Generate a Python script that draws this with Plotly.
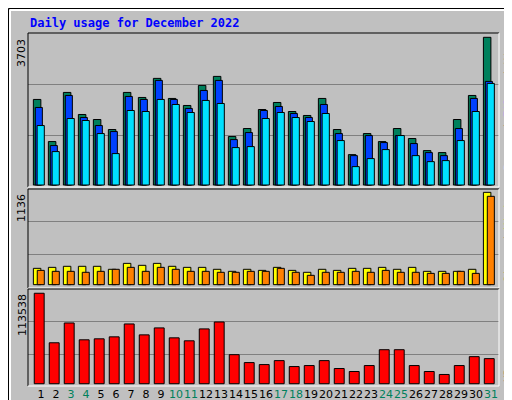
import plotly.graph_objects as go

days = list(range(1, 32))
hits = [2145,1089,2321,1768,1642,1391,2321,2195,2673,2170,1994,2497,2723,1215,1416,1893,2069,1843,1743,2170,1391,762,1290,1089,1416,1165,863,813,1642,2245,3703]
files = [1944,989,2245,1692,1491,1340,2220,2145,2622,2145,1919,2371,2622,1139,1315,1868,1969,1793,1692,2019,1290,737,1240,1064,1240,1039,813,737,1416,2170,2597]
pages = [1491,838,1667,1617,1290,788,1868,1843,2145,2019,1818,2120,2044,938,963,1667,1818,1692,1592,1793,1114,461,662,888,1240,737,586,612,1114,1843,2547]
visits = [201,213,226,226,226,189,262,238,262,226,213,213,189,164,189,176,213,176,152,189,176,201,201,213,189,213,164,164,164,189,1136]
sites = [176,164,164,152,164,189,213,164,213,189,164,164,152,152,164,164,201,152,115,152,152,164,152,176,152,152,139,139,164,139,1087]
kbytes = [113538,51386,76250,55115,56358,58845,75006,61331,70034,57601,53872,68790,77493,36467,26522,24035,29008,21549,22792,29008,19062,15333,22792,42683,42683,22792,15333,11603,22792,33981,31494]
weekend = [3,4,10,11,17,18,24,25,31]

W, H = 512, 400
L, R, T, B = 20, 21, 25, 22
PW, PH = W - L - R, H - T - B
def px(x): return (x - L) / PW
def py(y): return (H - B - y) / PH

fig = go.Figure()
line = dict(color="black", width=1)
def bar(y, color, off, wid, ax):
    fig.add_trace(go.Bar(x=days, y=y, marker=dict(color=color, line=line),
                         offset=off, width=wid, yaxis=ax, showlegend=False, hoverinfo="skip"))
bar(hits, "#00805C", -0.51, 0.5, "y")
bar(files, "#0040FF", -0.38, 0.47, "y")
bar(pages, "#00E0FF", -0.26, 0.48, "y")
bar(visits, "#FFFF00", -0.51, 0.5, "y2")
bar(sites, "#FF8000", -0.25, 0.47, "y2")
bar(kbytes, "#FF0000", -0.45, 0.66, "y3")

ticktext = [f'<span style="color:{"#00805C" if d in weekend else "black"}">{d}</span>' for d in days]
ycommon = dict(showticklabels=False, ticks="", showgrid=True, gridcolor="#808080", gridwidth=1,
               zeroline=False, showline=False, automargin=False)
fig.update_layout(
    width=W, height=H, margin=dict(l=L, r=R, t=T, b=B, autoexpand=False),
    paper_bgcolor="#C0C0C0", plot_bgcolor="#C0C0C0", barmode="overlay",
    font=dict(family="DejaVu Sans", size=11, color="black"),
    xaxis=dict(range=[0.133, 31.53], tickvals=days, ticktext=ticktext, ticks="", showgrid=False,
               zeroline=False, tickfont=dict(size=11), tickangle=0, automargin=False, anchor="y3"),
    yaxis=dict(domain=[py(179), 1], range=[-50, 3811], tickvals=[1253, 2532], **ycommon),
    yaxis2=dict(domain=[py(280), py(181)], range=[-41, 1177], tickvals=[374, 780], **ycommon),
    yaxis3=dict(domain=[0, py(281)], range=[-2860, 118886], tickvals=[36562, 77600], **ycommon),
)
ann = [
    dict(x=px(20), y=py(15), text="<b>Daily usage for December 2022</b>", xanchor="left", yanchor="middle",
         font=dict(family="DejaVu Sans Mono", size=12, color="#0000FF")),
    dict(x=px(14), y=py(29), text="3703", textangle=-90, xanchor="center", yanchor="top"),
    dict(x=px(14), y=py(184), text="1136", textangle=-90, xanchor="center", yanchor="top"),
    dict(x=px(14), y=py(284), text="113538", textangle=-90, xanchor="center", yanchor="top"),
    dict(x=px(500), y=py(28), textangle=-90, xanchor="center", yanchor="top",
         text='<span style="color:#00E0FF">Pages</span> / <span style="color:#0040FF">Files</span> / <span style="color:#00805C">Hits</span>',
         font=dict(family="DejaVu Sans Mono", size=11)),
    dict(x=px(500), y=py(277), textangle=-90, xanchor="center", yanchor="bottom",
         text='<span style="color:#FF8000">Sites</span> / <span style="color:#FFFF00">Visits</span>',
         font=dict(family="DejaVu Sans Mono", size=11)),
    dict(x=px(500), y=py(376), textangle=-90, xanchor="center", yanchor="bottom",
         text='<span style="color:#FF0000">KBytes</span>', font=dict(family="DejaVu Sans Mono", size=11)),
]
for a in ann:
    a.setdefault("xref", "paper"); a.setdefault("yref", "paper"); a["showarrow"] = False
fig.update_layout(annotations=ann)

shapes = []
def seg(x0, y0, x1, y1, c, w=1):
    shapes.append(dict(type="line", xref="paper", yref="paper", x0=px(x0), y0=py(y0), x1=px(x1), y1=py(y1),
                       line=dict(color=c, width=w)))
seg(0.5, 0.5, 511.5, 0.5, "black", 1); seg(0.5, 0.5, 0.5, 399.5, "black", 1)
seg(511.5, 0.5, 511.5, 399.5, "black", 1); seg(0.5, 399.5, 511.5, 399.5, "black", 1)
seg(2, 2, 509, 2, "white", 2); seg(2, 2, 2, 397, "white", 2)
seg(509, 2, 509, 397, "#808080", 3); seg(2, 397, 509, 397, "#808080", 3)
for (t, b) in [(25, 179), (181, 280), (281, 378)]:
    seg(20, t, 491, t, "black"); seg(20, t, 20, b, "black")
    seg(491, t, 491, b, "white"); seg(20, b, 491, b, "white")
fig.update_layout(shapes=shapes)
fig.write_html("out.html")
